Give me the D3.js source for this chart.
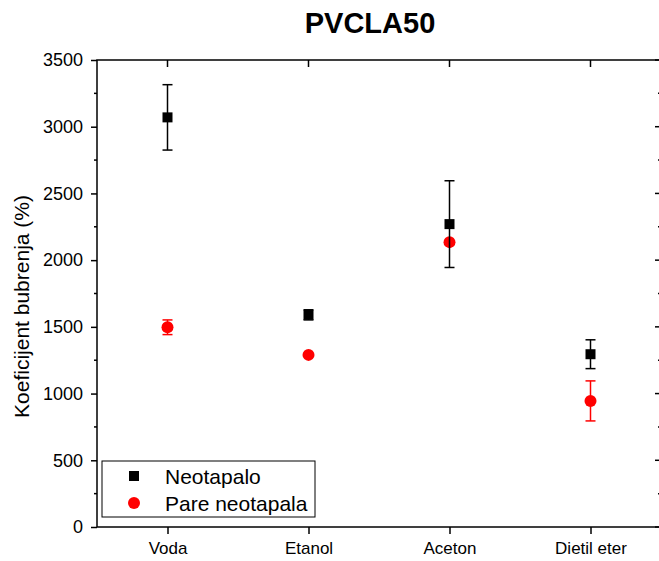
<!DOCTYPE html>
<html><head><meta charset="utf-8">
<script src="https://cdn.jsdelivr.net/npm/d3@7"></script>
<style>body{margin:0;background:#fff}svg{display:block;font-family:"Liberation Sans",Arial,sans-serif}</style>
</head><body><svg id="c" width="659" height="561"></svg>
<script>
const categories = ["Voda", "Etanol", "Aceton", "Dietil eter"];
const neotapalo = [3070, 1590, 2270, 1295];
const neotapaloErr = [245, 38, 325, 108];
const pare = [1497, 1290, 2135, 945];
const pareErr = [55, 0, 0, 150];
const yTicks = [0, 500, 1000, 1500, 2000, 2500, 3000, 3500];

const svg = d3.select("#c");
const L = 97, R = 661, T = 60, B = 527;
const x = d3.scaleLinear().domain([0.5, 4.5]).range([L, R]);
const y = d3.scaleLinear().domain([0, 3500]).range([B, T]);
const FONT = "Liberation Sans, Arial, sans-serif";

// frame
svg.append("rect").attr("x", L).attr("y", T).attr("width", R - L).attr("height", B - T)
  .attr("fill", "none").attr("stroke", "#000").attr("stroke-width", 1.5);

// left axis
const minor = d3.range(250, 3500, 500);
const gl = svg.append("g").attr("transform", `translate(${L},0)`);
gl.call(d3.axisLeft(y).tickValues(yTicks).tickSize(6).tickPadding(8).tickFormat(d3.format("d")));
gl.selectAll("text").attr("font-size", 18).attr("fill", "#000").attr("font-family", FONT);
gl.select(".domain").remove();
gl.selectAll("line").attr("stroke-width", 1.5);
gl.selectAll(".minor").data(minor).enter().append("line").attr("class", "minor")
  .attr("x1", -3).attr("x2", 0).attr("y1", d => y(d)).attr("y2", d => y(d)).attr("stroke", "#000").attr("stroke-width", 1.5);

// right axis (inward ticks)
const gr = svg.append("g");
gr.selectAll("line.maj").data(yTicks).enter().append("line")
  .attr("x1", R - 6).attr("x2", R).attr("y1", d => y(d)).attr("y2", d => y(d)).attr("stroke", "#000").attr("stroke-width", 1.5);
gr.selectAll("line.min").data(minor).enter().append("line")
  .attr("x1", R - 3).attr("x2", R).attr("y1", d => y(d)).attr("y2", d => y(d)).attr("stroke", "#000").attr("stroke-width", 1.5);

// bottom axis
const gb = svg.append("g").attr("transform", `translate(0,${B})`);
gb.call(d3.axisBottom(x).tickValues([1, 2, 3, 4]).tickSize(7).tickPadding(8).tickFormat(i => categories[i - 1]));
gb.select(".domain").remove();
gb.selectAll("line").attr("stroke-width", 1.5);
gb.selectAll("text").attr("font-size", 17).attr("fill", "#000").attr("font-family", FONT);

// top ticks (inward)
svg.append("g").selectAll("line").data([1, 2, 3, 4]).enter().append("line")
  .attr("x1", d => x(d)).attr("x2", d => x(d)).attr("y1", T).attr("y2", T + 7)
  .attr("stroke", "#000").attr("stroke-width", 1.5);

function errBars(vals, errs, color) {
  const g = svg.append("g");
  vals.forEach((v, i) => {
    const e = errs[i]; if (!e) return;
    const cx = x(i + 1);
    g.append("line").attr("x1", cx).attr("x2", cx).attr("y1", y(v + e)).attr("y2", y(v - e)).attr("stroke", color).attr("stroke-width", 1.5);
    [v + e, v - e].forEach(w => g.append("line").attr("x1", cx - 5).attr("x2", cx + 5).attr("y1", y(w)).attr("y2", y(w)).attr("stroke", color).attr("stroke-width", 1.5));
  });
}
errBars(pare, pareErr, "#ff0000");
svg.append("g").selectAll("circle").data(pare).enter().append("circle")
  .attr("cx", (d, i) => x(i + 1)).attr("cy", d => y(d)).attr("r", 6).attr("fill", "#ff0000");
errBars(neotapalo, neotapaloErr, "#000");
svg.append("g").selectAll("rect").data(neotapalo).enter().append("rect")
  .attr("x", (d, i) => x(i + 1) - 5).attr("y", d => y(d) - 5).attr("width", 10).attr("height", 10).attr("fill", "#000");

// legend
const lg = svg.append("g");
lg.append("rect").attr("x", 102).attr("y", 461).attr("width", 213).attr("height", 56).attr("fill", "#fff").attr("stroke", "#000").attr("stroke-width", 1);
lg.append("rect").attr("x", 129).attr("y", 471).attr("width", 10).attr("height", 10).attr("fill", "#000");
lg.append("circle").attr("cx", 134).attr("cy", 503).attr("r", 6).attr("fill", "#ff0000");
lg.append("text").attr("x", 165).attr("y", 484).attr("font-size", 21).attr("font-family", FONT).text("Neotapalo");
lg.append("text").attr("x", 165).attr("y", 511).attr("font-size", 21).attr("font-family", FONT).text("Pare neotapala");

// title
svg.append("text").attr("x", 370).attr("y", 33).attr("text-anchor", "middle").attr("font-size", 29).attr("font-weight", "bold").attr("font-family", FONT).text("PVCLA50");
// y label
svg.append("text").attr("transform", `translate(29,${(T + B) / 2 + 13}) rotate(-90)`).attr("text-anchor", "middle").attr("font-size", 21).attr("font-family", FONT).text("Koeficijent bubrenja (%)");
</script></body></html>
